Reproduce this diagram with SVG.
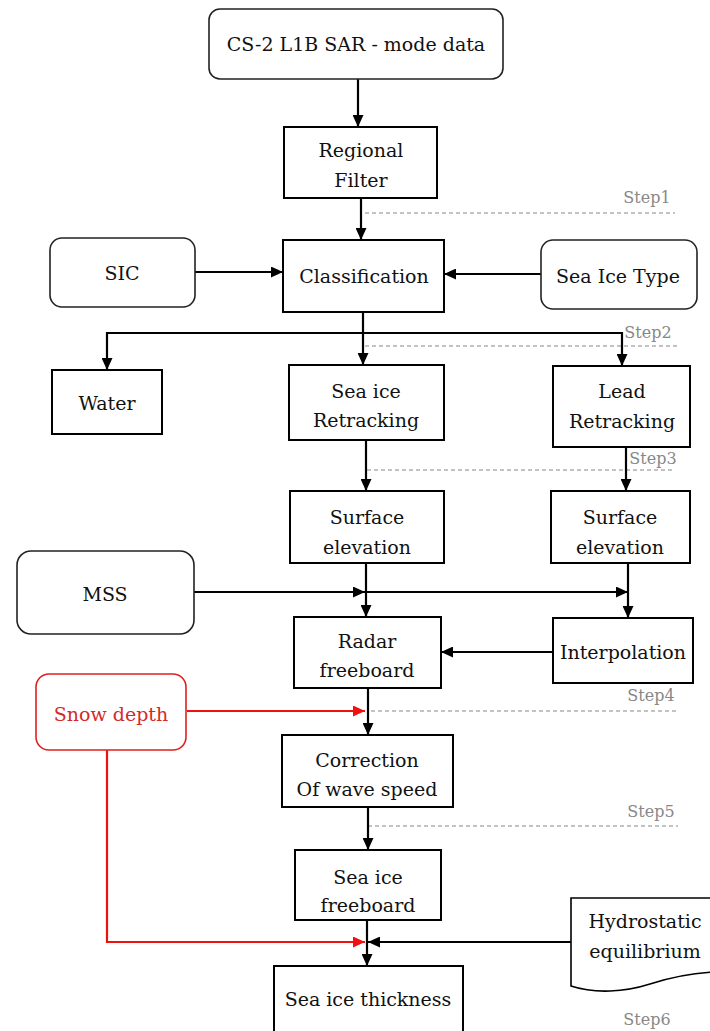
<svg xmlns="http://www.w3.org/2000/svg" width="710" height="1031" viewBox="0 0 710 1031">
<style>
.box{fill:#fff;stroke:#000;stroke-width:2}
.rbox{fill:#fff;stroke:#222;stroke-width:1.6}
.red{fill:#fff;stroke:#e02020;stroke-width:1.6}
text{font-family:"DejaVu Serif","Liberation Serif",serif;font-size:19px;fill:#111;text-anchor:middle}
.step{font-size:16px;fill:#888}
.rt{fill:#d42a2a}
.c{fill:none;stroke:#000;stroke-width:2.2}
.cr{fill:none;stroke:#f01010;stroke-width:2.2}
.d{fill:none;stroke:#888;stroke-width:1.2;stroke-dasharray:4 3}
</style>
<defs>
<marker id="a" markerUnits="userSpaceOnUse" markerWidth="13" markerHeight="11" refX="12" refY="5.5" orient="auto">
<path d="M0,0 L12,5.5 L0,11 Z" fill="#000"/>
</marker>
<marker id="ar" markerUnits="userSpaceOnUse" markerWidth="13" markerHeight="11" refX="12" refY="5.5" orient="auto">
<path d="M0,0 L12,5.5 L0,11 Z" fill="#f01010"/>
</marker>
</defs>
<g id="steps">
<path class="d" d="M365 213 H675"/>
<text class="step" x="647" y="203">Step1</text>
<path class="d" d="M365 346 H677"/>
<text class="step" x="648" y="338">Step2</text>
<path class="d" d="M367 470 H675"/>
<text class="step" x="653" y="464">Step3</text>
<path class="d" d="M371 711 H678"/>
<text class="step" x="651" y="701">Step4</text>
<path class="d" d="M368 826 H678"/>
<text class="step" x="651" y="817">Step5</text>
<text class="step" x="647" y="1025">Step6</text>
</g>

<g id="connectors">
<path class="c" d="M358 79 V127" marker-end="url(#a)"/>
<path class="c" d="M361 198 V240" marker-end="url(#a)"/>
<path class="c" d="M195 272 H283" marker-end="url(#a)"/>
<path class="c" d="M541 274 H444" marker-end="url(#a)"/>
<path class="c" d="M363 312 V365" marker-end="url(#a)"/>
<path class="c" d="M363 333 H107 V370" marker-end="url(#a)"/>
<path class="c" d="M363 333 H622 V366" marker-end="url(#a)"/>
<path class="c" d="M366 440 V491" marker-end="url(#a)"/>
<path class="c" d="M626 447 V491" marker-end="url(#a)"/>
<path class="c" d="M366 563 V617" marker-end="url(#a)"/>
<path class="c" d="M628 563 V618" marker-end="url(#a)"/>
<path class="c" d="M194 592 H365" marker-end="url(#a)"/>
<path class="c" d="M366 592 H628" marker-end="url(#a)"/>
<path class="c" d="M553 652 H441" marker-end="url(#a)"/>
<path class="c" d="M368 688 V735" marker-end="url(#a)"/>
<path class="c" d="M368 807 V850" marker-end="url(#a)"/>
<path class="c" d="M367 920 V966" marker-end="url(#a)"/>
<path class="c" d="M571 942 H368" marker-end="url(#a)"/>
<path class="cr" d="M187 711 H365" marker-end="url(#ar)"/>
<path class="cr" d="M107 750 V942 H365" marker-end="url(#ar)"/>
</g>

<g id="n-cs2">
<rect class="rbox" x="209" y="9" width="294" height="70" rx="11"/>
<text x="356" y="51">CS-2 L1B SAR - mode data</text>
</g>
<g id="n-regional">
<rect class="box" x="284" y="127" width="153" height="71"/>
<text x="361" y="157">Regional</text>
<text x="361" y="187">Filter</text>
</g>
<g id="n-class">
<rect class="box" x="283" y="240" width="161" height="72"/>
<text x="364" y="283">Classification</text>
</g>
<g id="n-sic">
<rect class="rbox" x="50" y="238" width="145" height="69" rx="12"/>
<text x="122" y="280">SIC</text>
</g>
<g id="n-sit">
<rect class="rbox" x="541" y="240" width="156" height="69" rx="12"/>
<text x="618" y="283">Sea Ice Type</text>
</g>
<g id="n-water">
<rect class="box" x="52" y="370" width="110" height="64"/>
<text x="107" y="410">Water</text>
</g>
<g id="n-siret">
<rect class="box" x="289" y="365" width="155" height="75"/>
<text x="366" y="398">Sea ice</text>
<text x="366" y="427">Retracking</text>
</g>
<g id="n-lead">
<rect class="box" x="553" y="366" width="137" height="81"/>
<text x="622" y="398">Lead</text>
<text x="622" y="428">Retracking</text>
</g>
<g id="n-surf1">
<rect class="box" x="290" y="491" width="154" height="72"/>
<text x="367" y="524">Surface</text>
<text x="367" y="554">elevation</text>
</g>
<g id="n-surf2">
<rect class="box" x="551" y="491" width="139" height="72"/>
<text x="620" y="524">Surface</text>
<text x="620" y="554">elevation</text>
</g>
<g id="n-mss">
<rect class="rbox" x="17" y="551" width="177" height="83" rx="14"/>
<text x="105" y="601">MSS</text>
</g>
<g id="n-radar">
<rect class="box" x="294" y="617" width="147" height="71"/>
<text x="367" y="648">Radar</text>
<text x="367" y="677">freeboard</text>
</g>
<g id="n-interp">
<rect class="box" x="553" y="618" width="140" height="65"/>
<text x="623" y="659">Interpolation</text>
</g>
<g id="n-snow">
<rect class="red" x="36" y="674" width="150" height="76" rx="13"/>
<text class="rt" x="111" y="721">Snow depth</text>
</g>
<g id="n-corr">
<rect class="box" x="282" y="735" width="171" height="72"/>
<text x="367" y="767">Correction</text>
<text x="367" y="796">Of wave speed</text>
</g>
<g id="n-sifb">
<rect class="box" x="295" y="850" width="146" height="70"/>
<text x="368" y="884">Sea ice</text>
<text x="368" y="912">freeboard</text>
</g>
<g id="n-hydro">
<path d="M571 986 V898 H716 V972 C690 973 672 977 650 984 C625 992 595 994 571 986 Z" fill="#fff" stroke="#000" stroke-width="1.6"/>
<text x="645" y="928">Hydrostatic</text>
<text x="645" y="958">equilibrium</text>
</g>
<g id="n-thick">
<rect class="box" x="274" y="966" width="189" height="70"/>
<text x="368" y="1006">Sea ice thickness</text>
</g>
</svg>
